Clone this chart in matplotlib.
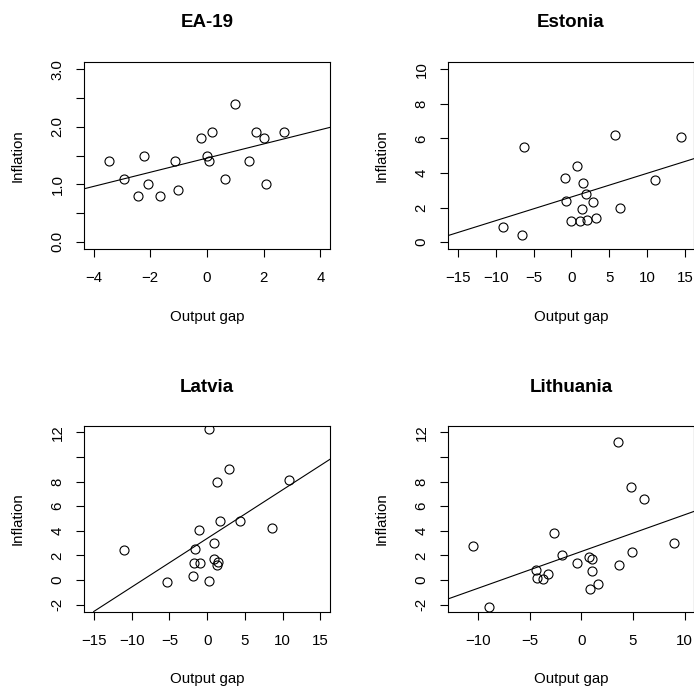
import numpy as np
import matplotlib
matplotlib.use("Agg")
import matplotlib.pyplot as plt

plt.rcParams['font.family'] = ['Liberation Sans', 'DejaVu Sans']

# values
ea_gap = [-3.47, -2.92, -2.45, -2.21, -2.07, -1.65, -1.13, -1.02, -0.22, 0.0,
          0.07, 0.18, 0.65, 1.0, 1.47, 1.73, 2.01, 2.09, 2.71]
ea_inf = [1.4, 1.1, 0.8, 1.5, 1.0, 0.8, 1.4, 0.9, 1.8, 1.5,
          1.4, 1.9, 1.1, 2.4, 1.4, 1.9, 1.8, 1.0, 1.9]

ee_gap = [-9.0, -6.57, -6.22, -0.84, -0.75, -0.09, 0.75, 1.15, 1.37, 1.54,
          1.90, 2.07, 2.91, 3.26, 5.73, 6.40, 11.03, 14.42]
ee_inf = [0.9, 0.4, 5.5, 3.7, 2.4, 1.2, 4.4, 1.2, 1.9, 3.4,
          2.8, 1.3, 2.3, 1.4, 6.2, 2.0, 3.6, 6.1]

lv_gap = [-10.97, -5.35, -1.90, -1.81, -1.64, -1.11, -0.97, 0.22, 0.22, 0.97,
          0.97, 1.24, 1.33, 1.50, 1.77, 2.92, 4.38, 8.58, 10.84]
lv_inf = [2.4, -0.2, 0.3, 1.4, 2.5, 4.1, 1.4, 12.3, -0.1, 3.0,
          1.7, 8.0, 1.2, 1.5, 4.8, 9.0, 4.8, 4.2, 8.1]

lt_gap = [-10.45, -8.97, -4.39, -4.32, -3.74, -3.23, -2.61, -1.90, -0.39, 0.77,
          1.0, 0.84, 1.06, 1.61, 3.58, 3.65, 4.81, 4.94, 6.06, 8.94]
lt_inf = [2.8, -2.2, 0.8, 0.2, 0.1, 0.5, 3.8, 2.0, 1.4, 1.9,
          1.7, -0.7, 0.7, -0.3, 11.2, 1.2, 7.6, 2.3, 6.6, 3.0]

# fitted lines (intercept, slope) as drawn in the picture
fit_ea = (1.455, 0.123)
fit_ee = (2.609, 0.137)
fit_lv = (3.38, 0.395)
fit_lt = (2.318, 0.299)

titles = ['EA-19', 'Estonia', 'Latvia', 'Lithuania']

fig = plt.figure(figsize=(6.94, 6.89), dpi=100)

W, H = 694.0, 689.0
def box(x0, y0, x1, y1):
    return [x0 / W, 1 - y1 / H, (x1 - x0) / W, (y1 - y0) / H]

panels = [
    (box(84, 62, 330, 249), ea_gap, ea_inf, fit_ea, (-4.34, 4.34), (-0.125, 3.125),
     np.arange(-4, 5, 2), np.arange(0, 3.01, 0.5), ['0.0', '', '1.0', '', '2.0', '', '3.0']),
    (box(448, 62, 694, 249), ee_gap, ee_inf, fit_ee, (-16.3, 16.2), (-0.4, 10.42),
     np.arange(-15, 16, 5), np.arange(0, 11, 2), None),
    (box(84, 426, 330, 611.5), lv_gap, lv_inf, fit_lv, (-16.33, 16.29), (-2.56, 12.52),
     np.arange(-15, 16, 5), np.arange(-2, 13, 2), ['-2', '0', '2', '4', '6', '8', '', '12']),
    (box(448, 426, 694, 611.5), lt_gap, lt_inf, fit_lt, (-12.9, 10.9), (-2.56, 12.52),
     np.arange(-10, 11, 5), np.arange(-2, 13, 2), ['-2', '0', '2', '4', '6', '8', '', '12']),
]

for (rect, gx, iy, fit, xl, yl, xt, yt, ytl), title in zip(panels, titles):
    ax = fig.add_axes(rect)
    ax.plot(gx, iy, 'o', mfc='none', mec='black', ms=6.5, mew=0.8)
    ax.axline((0, fit[0]), slope=fit[1], color='black', lw=0.8)
    ax.set_xlim(xl)
    ax.set_ylim(yl)
    ax.set_xticks(xt)
    ax.set_yticks(yt)
    if ytl is not None:
        ax.set_yticklabels(ytl)
    ax.tick_params(direction='out', length=5.5, width=0.8, labelsize=10.8, colors='black')
    ax.tick_params(axis='x', pad=10.5)
    ax.tick_params(axis='y', pad=8.5, labelrotation=90)
    for lab in ax.get_yticklabels():
        lab.set_va('center')
    for s in ax.spines.values():
        s.set_linewidth(0.8)
    ax.set_title(title, fontsize=13.5, fontweight='bold', y=1.21, va='center', pad=0)
    ax.text(0.5, -0.364, 'Output gap', transform=ax.transAxes, ha='center', va='center', fontsize=10.8)
    ax.text(-0.268, 0.5, 'Inflation', transform=ax.transAxes, ha='center', va='center',
            rotation=90, fontsize=10.8)

fig.savefig('out.png', dpi=100)
